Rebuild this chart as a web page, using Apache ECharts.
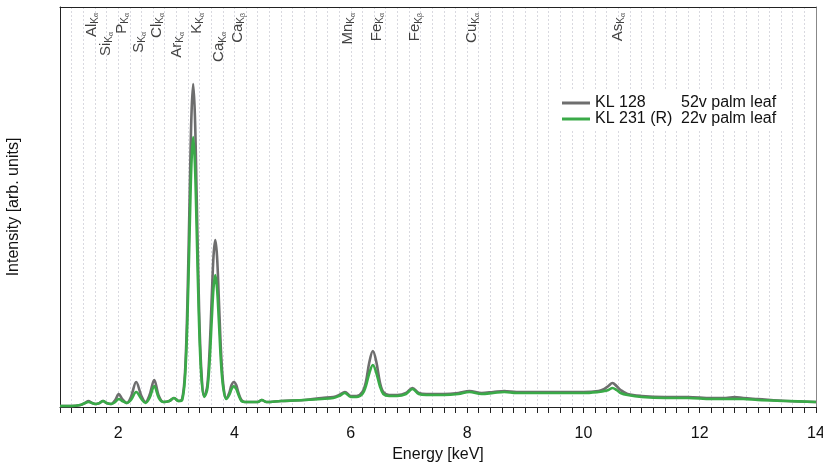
<!DOCTYPE html>
<html>
<head>
<meta charset="utf-8">
<script src="https://cdn.jsdelivr.net/npm/echarts@6/dist/echarts.min.js"></script>
<style>
  html, body { margin: 0; padding: 0; background: #fff; }
  #chart { width: 823px; height: 462px; }
</style>
</head>
<body>
<div id="chart"></div>
<script>
// spectrum (arb. units, 0..400)
var energy = [1.0,1.2,1.35,1.43,1.49,1.55,1.62,1.68,1.74,1.8,1.88,1.95,2.01,2.07,2.15,2.22,2.31,2.4,2.47,2.54,2.62,2.7,2.78,2.88,2.96,3.04,
    3.10,3.15,3.19,3.23,3.26,3.29,3.32,3.35,3.39,3.43,3.48,3.53,3.57,3.61,3.64,3.67,3.70,3.73,3.77,3.81,3.86,3.91,3.95,3.99,4.03,4.07,4.12,4.18,
    4.3,4.4,4.47,4.55,4.8,5.2,5.5,5.7,5.8,5.9,6.0,6.1,6.2,6.26,6.32,6.38,6.44,6.5,6.56,6.66,6.8,6.95,7.06,7.17,7.3,7.6,7.85,8.04,8.25,8.45,8.64,8.85,9.2,9.6,10.0,
    10.26,10.36,10.43,10.5,10.57,10.64,10.76,11.0,11.4,11.8,12.2,12.45,12.6,12.75,13.0,13.5,14.0];
var kl128 = [1,1,2,4,6,4,3,4,6,4,3,7,13,8,4,10,25,11,5,12,27,11,5,6,9,6,
    8,35,102,212,291,323,291,212,102,37,11,20,54,110,151,167,151,110,54,21,9,14,22,25,22,14,7,5,
    5,5,7,5,6,7,9,10,12,15,11,11,15,25,45,56,45,25,15,12,12,14,19,14,13,13,14,16,14,15,16,15,15,15,15,
    16,18,21,24,21,17,13,11,10,10,9,9,10,9,8,6,5];
var kl231 = [1,1,2,4,5,4,3,4,6,4,3,5,8,6,4,7,15,8,4,9,21,9,5,6,9,6,
    7,30,86,178,243,270,243,178,86,31,10,17,43,88,119,132,119,88,43,18,8,12,18,21,18,12,6,5,
    5,5,7,5,6,7,8,9,11,14,10,10,13,21,34,42,34,21,13,11,11,13,18,13,12,12,13,15,13,14,15,14,14,14,14,
    15,16,17,19,17,14,12,10,9,9,8,8,8,8,7,6,5];

var seriesNames = ['KL 128', 'KL 231 (R)'];
var seriesDesc = ['52v palm leaf', '22v palm leaf'];
var seriesColors = ['#6e6e6e', '#3aaa48'];

// element lines marked at the top
var lineNames  = ['Al','Si','P','S','Cl','Ar','K','Ca','Ca','Mn','Fe','Fe','Cu','As'];
var lineKind   = ['α','α','α','α','α','α','α','α','β','α','α','β','α','α'];
var lineEnergy = [1.49,1.74,2.01,2.31,2.62,2.96,3.31,3.69,4.01,5.90,6.40,7.06,8.04,10.54];
var lineRow    = [0,1,0,1,0,1,0,1,0,0,0,0,0,0];

var xTicks = [2, 4, 6, 8, 10, 12, 14];

function pairs(ys) {
    return energy.map(function (e, i) { return [e, ys[i]]; });
}

var chart = echarts.init(document.getElementById('chart'));
var rowTop = [394, 375];
var labelData = lineEnergy.map(function (e, i) {
    return { value: [e + 0.05, rowTop[lineRow[i]]], name: lineNames[i], kind: lineKind[i] };
});

var option = {
    animation: false,
    textStyle: { fontFamily: 'Liberation Sans, Arial, sans-serif' },
    grid: { left: 60, right: 7, top: 7, bottom: 55, containLabel: false, outerBoundsMode: 'none' },
    legend: {
        data: seriesNames,
        orient: 'vertical',
        left: 556,
        top: 91,
        icon: 'rect',
        itemWidth: 28,
        itemHeight: 3,
        itemGap: 0,
        backgroundColor: '#fff',
        padding: [4, 6, 4, 6],
        formatter: function (name) {
            var k = seriesNames.indexOf(name);
            return '{a|' + name + '}{b|' + seriesDesc[k] + '}';
        },
        textStyle: {
            color: '#111',
            rich: {
                a: { fontSize: 16, width: 86, lineHeight: 20, color: '#111' },
                b: { fontSize: 16, lineHeight: 20, color: '#111' }
            }
        }
    },
    xAxis: [{
        type: 'value',
        min: 1,
        max: 14,
        interval: 1,
        name: 'Energy [keV]',
        nameLocation: 'middle',
        nameGap: 38,
        nameTextStyle: { fontSize: 16, color: '#111' },
        axisLine: { onZero: false, lineStyle: { color: '#222', width: 1 } },
        axisTick: { length: 6, lineStyle: { color: '#222' } },
        minorTick: { show: true, splitNumber: 5, length: 6, lineStyle: { color: '#222' } },
        axisLabel: {
            fontSize: 16, color: '#111', margin: 19,
            formatter: function (v) { return xTicks.indexOf(v) >= 0 ? String(v) : ''; }
        },
        splitLine: { show: true, lineStyle: { color: '#d9d9e0', type: [2, 2], width: 1 } },
        minorSplitLine: { show: true, lineStyle: { color: '#d9d9e0', type: [2, 2], width: 1 } }
    }, {
        type: 'value',
        position: 'top',
        min: 1,
        max: 14,
        axisLine: { show: true, onZero: false, lineStyle: { color: '#222', width: 1 } },
        axisTick: { show: false },
        axisLabel: { show: false },
        splitLine: { show: false }
    }],
    yAxis: [{
        type: 'value',
        min: 0,
        max: 400,
        name: 'Intensity [arb. units]',
        nameLocation: 'middle',
        nameGap: 38,
        nameTextStyle: { fontSize: 16, color: '#111' },
        axisLine: { show: true, onZero: false, lineStyle: { color: '#222', width: 1 } },
        axisTick: { show: false },
        axisLabel: { show: false },
        splitLine: { show: false }
    }, {
        type: 'value',
        position: 'right',
        min: 0,
        max: 400,
        axisLine: { show: true, onZero: false, lineStyle: { color: '#888', width: 1 } },
        axisTick: { show: false },
        axisLabel: { show: false },
        splitLine: { show: false }
    }],
    series: [{
        name: seriesNames[0],
        type: 'line',
        data: pairs(kl128),
        showSymbol: false,
        smooth: 0.35,
        lineStyle: { color: seriesColors[0], width: 2.6 },
        itemStyle: { color: seriesColors[0] },
        z: 2
    }, {
        name: seriesNames[1],
        type: 'line',
        data: pairs(kl231),
        showSymbol: false,
        smooth: 0.35,
        lineStyle: { color: seriesColors[1], width: 2.6 },
        itemStyle: { color: seriesColors[1] },
        z: 3
    }, {
        type: 'scatter',
        data: labelData,
        symbolSize: 0,
        silent: true,
        label: {
            show: true,
            position: 'inside',
            rotate: 90,
            align: 'right',
            verticalAlign: 'middle',
            formatter: function (p) {
                return '{n|' + p.data.name + '}{s|K}{t|' + p.data.kind + '}';
            },
            rich: {
                n: { fontSize: 15, color: '#111', lineHeight: 17, verticalAlign: 'middle' },
                s: { fontSize: 10, color: '#111', lineHeight: 17, verticalAlign: 'bottom', padding: [7, 0, 0, 0] },
                t: { fontSize: 7, color: '#111', lineHeight: 17, verticalAlign: 'bottom', padding: [9, 0, 0, 0] }
            }
        },
        z: 4
    }]
};
chart.setOption(option);
</script>
</body>
</html>
